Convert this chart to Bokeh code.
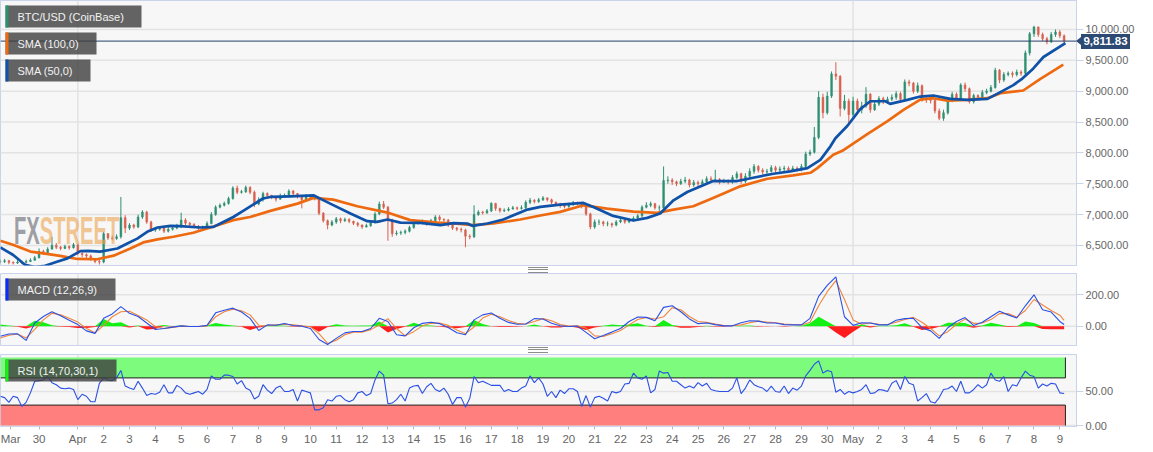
from bokeh.embed import file_html
from bokeh.resources import INLINE
from bokeh.layouts import column
from bokeh.models import (ColumnDataSource, FixedTicker, Label, BoxAnnotation,
                          LinearAxis, NumeralTickFormatter, Range1d, Div, Span)
from bokeh.plotting import figure

# x is the index of a 4-hour bar; bar 18 = Apr 1, bar 198 = May 1
date_ticks = [2.4, 9, 18] + [18 + 6 * k for k in range(1, 30)] + [198 + 6 * k for k in range(0, 9)]
date_labels = ["Mar", "30", "Apr"] + [str(d) for d in range(2, 31)] + ["May"] + [str(d) for d in range(2, 10)]

close = [
 6240,6250,6225,6215,6230,6225,6240,6260,6300,6400,
 6380,6440,6500,6470,6450,6480,6460,6510,6370,6350,
 6330,6280,6240,6230,6690,6620,6610,6640,6950,6780,
 6830,6800,6960,7040,6880,6750,6760,6780,6730,6760,
 6780,6800,6910,6860,6840,6810,6780,6790,6855,7000,
 7120,7150,7180,7260,7430,7360,7370,7440,7360,7170,
 7240,7340,7310,7280,7250,7300,7310,7380,7340,7290,
 7240,7300,7280,7260,7020,6900,6830,6880,6930,6900,
 6920,6890,6860,6830,6800,6820,6870,7010,7170,7120,
 6900,6690,6700,6710,6730,6790,6850,6870,6880,6860,
 6900,6960,6920,6910,6830,6780,6760,6750,6650,6640,
 7000,7040,7030,7060,7180,7100,7060,7070,7090,7110,
 7100,7110,7200,7230,7210,7240,7270,7240,7200,7170,
 7150,7130,7160,7190,7180,7130,7010,6800,6880,6880,
 6850,6850,6830,6880,6910,6880,6910,6940,6980,7120,
 7150,7175,7110,7110,7550,7560,7530,7500,7540,7560,
 7480,7520,7500,7530,7580,7570,7570,7530,7550,7530,
 7600,7660,7540,7620,7700,7780,7720,7690,7700,7760,
 7720,7740,7750,7720,7750,7730,7780,7980,8010,8250,
 8900,8650,8920,9280,9240,8720,8840,8620,8840,8700,
 8760,8950,8700,8790,8880,8830,8870,8900,8960,8870,
 9150,9130,9000,9090,8870,8860,8850,8680,8560,8650,
 8850,8950,8880,9100,9040,8830,8930,8900,8980,9000,
 9060,9340,9180,9270,9290,9270,9310,9290,9620,9930,
 10040,9920,9850,9800,9920,9960,9900,9811.83]
high = [
 6270,6280,6265,6240,6260,6250,6270,6290,6330,6450,
 6430,6470,6640,6540,6490,6510,6500,6540,6520,6390,
 6370,6350,6290,6270,6720,6700,6660,6680,7285,6990,
 6860,6850,7000,7070,7060,6900,6790,6810,6790,6800,
 6810,6850,7030,6940,6880,6860,6830,6820,6890,7040,
 7150,7180,7210,7290,7460,7470,7400,7470,7460,7390,
 7280,7370,7360,7320,7290,7340,7340,7410,7400,7350,
 7310,7330,7330,7300,7280,7040,6920,6910,6960,6950,
 6950,6940,6900,6880,6840,6850,6900,7040,7210,7220,
 7140,6930,6740,6740,6760,6820,6880,6900,6920,6900,
 6930,6990,6990,6940,6930,6840,6800,6790,6770,6680,
 7150,7070,7060,7090,7200,7190,7110,7100,7120,7140,
 7130,7150,7230,7270,7250,7270,7300,7280,7260,7210,
 7190,7170,7190,7220,7210,7200,7160,7030,6920,6920,
 6900,6890,6870,6910,6940,6930,6940,6970,7010,7150,
 7200,7210,7190,7150,7780,7620,7590,7550,7580,7610,
 7580,7560,7550,7570,7620,7620,7725,7590,7580,7570,
 7640,7700,7680,7670,7750,7820,7800,7750,7740,7800,
 7790,7780,7790,7780,7790,7780,7820,8020,8050,8420,
 9000,8960,8990,9320,9470,9260,8940,8880,8910,8880,
 8830,9065,8970,8830,8920,8910,8910,8950,9000,8990,
 9190,9185,9150,9140,9110,8920,8900,8870,8720,8700,
 8890,8990,8980,9130,9140,9060,8960,8950,9020,9040,
 9100,9380,9360,9310,9320,9320,9350,9340,9660,9960,
 10060,10050,9950,9880,9960,10000,9990,9920]
low = [
 6210,6215,6195,6190,6200,6195,6210,6230,6250,6290,
 6350,6370,6430,6440,6420,6440,6430,6450,6340,6310,
 6290,6250,6210,6190,6210,6590,6580,6590,6610,6700,
 6750,6770,6780,6930,6850,6720,6720,6740,6700,6710,
 6740,6760,6780,6830,6810,6780,6740,6760,6770,6840,
 6980,7100,7130,7160,7240,7330,7340,7350,7330,7120,
 7150,7210,7280,7250,7210,7240,7280,7290,7310,7260,
 7100,7210,7250,7230,6990,6870,6760,6810,6850,6860,
 6880,6860,6830,6800,6770,6790,6800,6850,6990,7090,
 6575,6640,6660,6670,6680,6710,6770,6840,6850,6820,
 6830,6880,6890,6880,6800,6750,6730,6710,6470,6600,
 6620,6980,7000,7010,7040,7060,7030,7040,7050,7080,
 7070,7080,7090,7170,7180,7190,7220,7210,7170,7140,
 7110,7100,7110,7140,7150,7100,6980,6760,6770,6830,
 6810,6810,6790,6810,6860,6850,6860,6890,6930,6950,
 7100,7120,7080,7060,7090,7500,7480,7460,7480,7510,
 7440,7450,7460,7480,7500,7540,7540,7490,7510,7490,
 7500,7570,7500,7510,7590,7660,7680,7650,7660,7680,
 7680,7690,7700,7680,7690,7700,7700,7750,7950,7990,
 8220,8560,8620,8890,9180,8590,8690,8480,8580,8620,
 8640,8730,8650,8680,8760,8790,8800,8840,8860,8820,
 8840,9080,8960,8970,8830,8810,8800,8640,8530,8520,
 8620,8820,8840,8850,8990,8800,8800,8860,8880,8950,
 8980,9040,9130,9150,9240,9220,9240,9250,9260,9580,
 9880,9880,9810,9760,9780,9880,9860,9780]

sma50_bar = [0,3,5.8,8,10.4,12.8,15.6,18.6,20.4,23.2,27.2,29.5,31.8,34.1,36.5,39.5,41.8,46.4,49.5,51.8,
 54.1,56.4,58.7,61,62.7,67.3,72.7,76.6,81.3,85.2,87.5,89.9,92.9,97.5,102.2,105.2,108.4,109.6,113.1,116.8,
 122.4,125.4,130,135.4,137.7,142.3,147,150.2,153.2,156.3,159.5,165.5,171.1,174.8,179.5,183.4,187.4,190.4,192.7,193.9,
 196.7,199.7,202,205.5,206.6,210.6,213.6,216.6,220.6,224.5,229.2,232.2,235.2,237.3,239.8,242.2,247.3]
sma50 = [6468,6344,6183,6150,6170,6226,6290,6408,6412,6400,6450,6530,6610,6720,6790,6817,6812,6790,6800,6880,
 6960,7060,7160,7260,7285,7296,7312,7177,7016,6892,6882,6920,6870,6866,6828,6860,6855,6817,6855,6920,
 7080,7124,7160,7188,7124,6978,6903,6946,7016,7231,7366,7543,7543,7597,7661,7700,7753,7887,8102,8237,
 8440,8712,8837,8837,8794,8859,8913,8930,8875,8859,8875,8984,9098,9204,9364,9554,9780]
sma100_bar = [0,3.1,7,10,13.9,17.9,22.5,26.3,30.2,33.2,36.5,40.2,44.8,48.8,54.1,58,62.7,69,72.7,77.3,
 82.9,89.9,95.2,101.5,105.2,109.8,114.5,120.7,125.4,130,135.4,140.9,147,152.5,156.3,160.9,165.5,171.8,178.1,184.1,
 188.1,189.7,193.4,195.5,201.3,205.9,209.7,213.6,216.6,219.9,224.5,229.2,232.2,237.5,241.5,246.8]
sma100 = [6575,6505,6400,6370,6330,6280,6275,6333,6450,6548,6597,6640,6705,6790,6910,6960,7060,7177,7270,7242,
 7135,7032,6910,6870,6855,6828,6855,6920,6985,7043,7150,7097,7048,7027,7080,7134,7269,7457,7580,7634,
 7677,7753,7968,8033,8305,8511,8696,8864,8886,8848,8859,8886,8967,9011,9200,9429]

macd = [-64,-50,-49,-91,20,62,92,66,38,10,-30,-46,50,78,125,82,62,20,-21,-15,
 -6,2,-2,-2,5,85,102,115,90,50,-28,8,6,17,4,0,-15,-85,-117,-78,-43,-34,
 -34,-15,50,30,-55,-62,-10,18,25,16,-8,-42,-55,40,72,84,50,24,12,14,
 48,46,18,2,-2,0,-40,-80,-60,-38,-15,30,58,56,35,120,130,92,46,16,20,10,
 2,2,22,35,32,20,20,10,8,8,50,190,260,315,60,5,22,20,8,8,
 38,48,50,-10,-30,-78,-10,30,55,4,25,60,95,72,52,130,200,105,90,30,11]
signal = [-75,-58,-50,-75,-20,40,82,72,50,26,-15,-42,5,60,92,95,68,40,-4,-15,
 -8,0,-2,-2,2,60,92,108,98,72,6,4,8,12,8,3,-4,-48,-110,-90,-55,-38,
 -38,-22,8,48,-15,-62,-35,2,18,20,5,-25,-48,-5,52,76,60,36,18,14,
 30,48,34,10,0,2,-12,-62,-66,-48,-28,8,42,55,46,60,118,105,62,30,24,14,
 4,3,8,22,32,26,22,14,10,8,25,130,220,290,170,40,12,20,12,10,
 25,42,56,25,-15,-62,-35,12,45,18,20,42,80,80,58,100,170,135,100,70,37]
hist = [10,4,-3,-15,35,25,6,-3,-6,-12,-12,-6,45,18,25,-8,4,-22,-18,8,
 -3,5,-4,-3,4,20,10,4,-3,-25,-8,5,6,3,-4,-3,-6,-35,-6,12,5,3,
 5,5,30,-40,-18,-3,22,6,4,-4,-8,-14,-6,40,14,-2,-5,-6,-4,-1,
 10,-2,-8,-8,-1,-10,-25,-8,3,10,6,10,18,3,-5,40,8,-10,-10,-5,2,-3,
 -3,-1,2,5,-3,-2,-1,-3,-1,3,18,60,30,-40,-75,-35,10,-8,2,3,
 6,18,-4,-25,-18,-3,22,22,20,-10,4,22,10,-5,-4,30,20,-18,-20,-20,-20]

rsi = [43,41,34,43,41,28,34,48,65,66,67,72,63,60,55,54,55,53,38,46,
 43,35,35,62,70,67,66,70,81,58,55,53,65,55,44,47,46,49,60,48,
 48,59,55,48,46,48,50,46,53,73,68,68,74,74,72,61,66,55,52,39,
 43,60,52,47,55,58,50,50,53,36,52,50,48,23,23,26,38,36,43,44,
 38,35,38,48,
 50,44,47,67,80,74,32,33,38,46,36,55,58,59,47,57,62,53,50,55,
 46,31,41,41,27,40,72,63,65,62,59,59,59,50,53,50,50,55,58,73,
 63,70,61,43,50,41,52,47,54,54,50,28,44,27,41,43,40,36,50,48,
 50,61,62,77,70,68,73,48,53,80,77,78,65,65,60,55,58,55,63,58,
 62,53,51,50,
 50,50,55,70,47,55,67,60,57,55,50,58,50,49,58,47,55,52,58,73,
 81,90,95,77,81,79,49,53,46,50,48,50,53,60,47,48,53,52,50,62,
 66,53,72,62,60,36,41,47,35,33,41,53,54,58,50,65,48,48,53,60,
 55,60,77,67,65,72,50,60,58,70,80,74,72,55,61,58,62,61,48,47]

price_ticks = [6500, 7000, 7500, 8000, 8500, 9000, 9500, 10000]
macd_ticks = [0, 200]
rsi_ticks = [0, 50]
rsi_upper = 70
rsi_lower = 30
rsi_top = 100
rsi_bottom = 0
last_price = 9811.83
month_bars = [18, 198]
last_bar = 247.3

LAB = "Liberation Sans"
UP, DOWN = "#2f8f72", "#d8604f"
TXT = "#666666"
EDGE = "#c9d3ea"
BG = "#f7f7f7"
GRID = "#e3e3e3"
XR = (0.05, 249.87)

def panel(h_frame, h_bottom, y0, y1, ticks):
    f = figure(frame_width=1076, frame_height=h_frame, x_range=Range1d(*XR), y_range=Range1d(y0, y1),
               output_backend="svg", toolbar_location=None, min_border_left=0, min_border_top=0,
               min_border_right=77, min_border_bottom=h_bottom, background_fill_color=BG,
               border_fill_color="white", outline_line_color=EDGE, outline_line_width=1,
               x_axis_location=None, y_axis_location=None)
    ax = LinearAxis(ticker=FixedTicker(ticks=ticks), formatter=NumeralTickFormatter(format="0,0.00"),
                    axis_line_color=EDGE, major_tick_line_color=EDGE, major_tick_in=0, major_tick_out=7,
                    minor_tick_line_color=None, major_label_text_font=LAB,
                    major_label_text_font_size="11px", major_label_text_color=TXT, major_label_standoff=2)
    f.add_layout(ax, "right")
    f.xgrid.visible = False
    f.ygrid.visible = False
    f.add_layout(Span(dimension="height", location=month_bars[0], line_color=GRID, line_width=1.5, level="underlay"))
    f.add_layout(Span(dimension="height", location=month_bars[1], line_color=GRID, line_width=1.5, level="underlay"))
    for t in ticks:
        f.add_layout(Span(dimension="width", location=t, line_color=GRID, line_width=1.5, level="underlay"))
    return f

def badge(f, frame_h, x0, x1, y0, y1, strip, text):
    f.add_layout(BoxAnnotation(left=x0, right=x1, top=frame_h - y0, bottom=frame_h - y1,
                               left_units="screen", right_units="screen", top_units="screen", bottom_units="screen",
                               fill_color="#3d3d3d", fill_alpha=0.8, line_color=None, level="overlay"))
    f.add_layout(BoxAnnotation(left=x0, right=x0 + 3, top=frame_h - y0, bottom=frame_h - y1,
                               left_units="screen", right_units="screen", top_units="screen", bottom_units="screen",
                               fill_color=strip, fill_alpha=1, line_color=None, level="overlay"))
    f.add_layout(Label(x=x0 + 12, y=frame_h - (y0 + y1) / 2, x_units="screen", y_units="screen", text=text,
                       text_color="#f2f2f2", text_font=LAB, text_font_size="11px", text_baseline="middle",
                       text_align="left", level="overlay"))

# ---------- price panel
opens = [close[0]] + close[:-1]
bars = list(range(len(close)))
src_up = ColumnDataSource(dict(x=[b for b in bars if close[b] >= opens[b]],
                               o=[opens[b] for b in bars if close[b] >= opens[b]],
                               c=[close[b] for b in bars if close[b] >= opens[b]],
                               h=[high[b] for b in bars if close[b] >= opens[b]],
                               l=[low[b] for b in bars if close[b] >= opens[b]]))
src_dn = ColumnDataSource(dict(x=[b for b in bars if close[b] < opens[b]],
                               o=[opens[b] for b in bars if close[b] < opens[b]],
                               c=[close[b] for b in bars if close[b] < opens[b]],
                               h=[high[b] for b in bars if close[b] < opens[b]],
                               l=[low[b] for b in bars if close[b] < opens[b]]))
p = panel(265, 8, 6174, 10470, price_ticks)
for s, col in ((src_up, UP), (src_dn, DOWN)):
    p.segment("x", "l", "x", "h", source=s, line_color=col, line_width=1)
    p.vbar("x", 0.42, "o", "c", source=s, fill_color=col, line_color=col, line_width=0.5)
p.line(sma100_bar, sma100, line_color="#ee6a10", line_width=2.7, line_join="round")
p.line(sma50_bar, sma50, line_color="#0f52a8", line_width=2.7, line_join="round")
p.add_layout(Span(dimension="width", location=last_price, line_color="#24426b", line_width=1))
badge(p, 265, 5, 141, 5, 27, "#2f8f72", "BTC/USD (CoinBase)")
badge(p, 265, 5, 96, 32, 54, "#ee6a10", "SMA (100,0)")
badge(p, 265, 5, 90, 59, 81, "#0f52a8", "SMA (50,0)")

# ---------- MACD panel
hist_bar = list(range(0, 247, 2)) + [247]
m = panel(72, 9, -123.4, 336, macd_ticks)
m.varea(hist_bar, [max(v, 0) for v in hist], [0] * len(hist), fill_color="#14f014")
m.varea(hist_bar, [0] * len(hist), [min(v, 0) for v in hist], fill_color="#ff1c1c")
m.line(hist_bar, signal, line_color="#f0853c", line_width=1.1)
m.line(hist_bar, macd, line_color="#2a50e6", line_width=1.1)
badge(m, 72, 5, 115, 5, 27, "#0a2cff", "MACD (12,26,9)")

# ---------- RSI panel
r = panel(72, 26, -1.47, 104.4, rsi_ticks)
r.quad(left=[XR[0]], right=[last_bar], top=[rsi_top], bottom=[rsi_upper], fill_color="#7cfb7c", line_color=None)
r.quad(left=[XR[0]], right=[last_bar], top=[rsi_lower], bottom=[rsi_bottom], fill_color="#ff7f7f", line_color=None)
r.line([XR[0], last_bar, last_bar], [rsi_upper, rsi_upper, rsi_top], line_color="#222222", line_width=1)
r.line([XR[0], last_bar, last_bar], [rsi_lower, rsi_lower, rsi_bottom], line_color="#222222", line_width=1)
r.line(bars, rsi, line_color="#2a50e6", line_width=1.1)
badge(r, 72, 5, 116, 5, 27, "#14f014", "RSI (14,70,30,1)")
xax = LinearAxis(ticker=FixedTicker(ticks=date_ticks),
                 major_label_overrides={t: l for t, l in zip(date_ticks, date_labels)},
                 axis_line_color=None, major_tick_line_color="#bbbbbb", major_tick_in=0, major_tick_out=3,
                 minor_tick_line_color=None, major_label_text_font=LAB, major_label_text_font_size="11.5px",
                 major_label_text_color=TXT, major_label_standoff=3)
r.add_layout(xax, "below")

def grip(top):
    return Div(text="&nbsp;", width=20, height=6, margin=0,
               styles={"position": "absolute", "left": "528px", "top": f"{top}px", "pointer-events": "none",
                       "overflow": "hidden", "font-size": "1px", "line-height": "1px",
                       "background": "repeating-linear-gradient(to bottom,#8c8c8c 0px,#8c8c8c 1px,transparent 1px,transparent 2.4px)"})

tag = Div(text='<div style="position:relative;width:49px;height:15px;background:#2c4a73;color:#fff;'
               'font:bold 11.5px \'Liberation Sans\';line-height:15px;text-align:center">9,811.83'
               '<div style="position:absolute;left:-5px;top:3px;width:0;height:0;border-top:4.5px solid transparent;'
               'border-bottom:4.5px solid transparent;border-right:5px solid #2c4a73"></div></div>',
          width=49, height=15, margin=0,
          styles={"position": "absolute", "left": "1081px", "top": "33px", "pointer-events": "none"})

logo = Div(text='<div style="font:bold 38px \'Liberation Sans\';transform:scaleX(.53);transform-origin:left top;'
                'white-space:nowrap;line-height:38px"><span style="color:#8f9096;opacity:.85">FX</span>'
                '<span style="color:#eda54f;opacity:.6">STREET</span></div>',
           width=200, height=40, margin=0,
           styles={"position": "absolute", "left": "14px", "top": "212px", "pointer-events": "none"})

root = column(p, m, r, logo, tag, grip(267), grip(347), spacing=0,
              styles={"position": "absolute", "left": "0px", "top": "0px"})
open("out.html", "w").write(file_html(root, INLINE))
